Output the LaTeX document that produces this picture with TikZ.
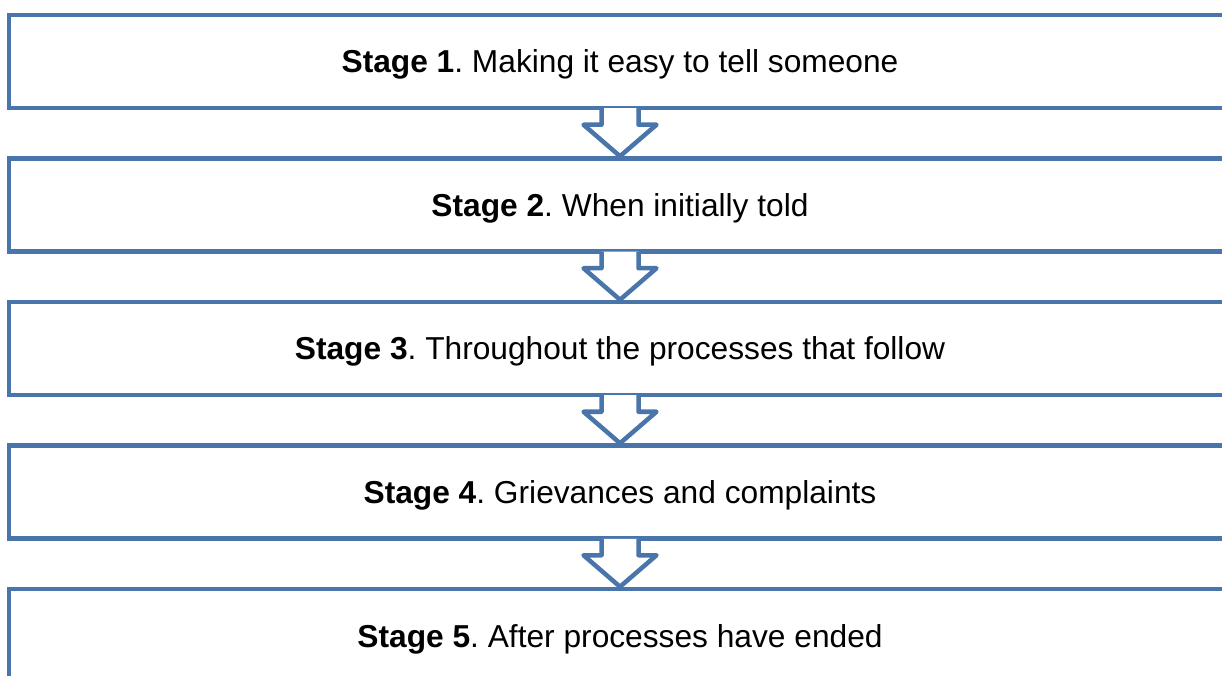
\documentclass[tikz,border=0pt]{standalone}
\usepackage{fontspec}
\setmainfont{Liberation Sans}
\usepackage{tikz}
\usetikzlibrary{calc}
\definecolor{stageblue}{RGB}{74,117,171}
\frenchspacing
\tikzset{
	stagebox/.style={draw=stageblue,line width=4.5pt,rectangle,inner sep=0pt,minimum width=1222pt,minimum height=93pt,text height=23pt,text depth=0pt,font=\fontsize{31.7}{38}\selectfont},
	downarrow/.style={draw=stageblue,fill=white,line width=4.5pt,line join=round}
}

\begin{document}
\begin{tikzpicture}[x=1pt,y=1pt]
			\useasboundingbox (0,0) rectangle (1222,675);
			\clip (0,0) rectangle (1222,675);
			%%%%%%%%%%%%%%% S T A G E S %%%%%%%%%%%%%%%%
			\node[stagebox] (stage1) at (620,613.5) {\textbf{Stage 1}. Making it easy to tell someone};
			\node[stagebox] (stage2) at (620,470) {\textbf{Stage 2}. When initially told};
			\node[stagebox] (stage3) at (620,326.5) {\textbf{Stage 3}. Throughout the processes that follow};
			\node[stagebox] (stage4) at (620,183) {\textbf{Stage 4}. Grievances and complaints};
			\node[stagebox] (stage5) at (620,39.5) {\textbf{Stage 5}. After processes have ended};
			%%%%%%%%%%%%%%% A R R O W S %%%%%%%%%%%%%%%%
			%stage 1 to 2
			\draw[downarrow] ($(stage1.south)+(-18.5,2)$) -- ++(0,-16.5) -- ++(-18,0) -- (stage2.north) -- ($(stage1.south)+(36.5,-14.5)$) -- ++(-18,0) -- ++(0,16.5);
			%stage 2 to 3
			\draw[downarrow] ($(stage2.south)+(-18.5,2)$) -- ++(0,-16.5) -- ++(-18,0) -- (stage3.north) -- ($(stage2.south)+(36.5,-14.5)$) -- ++(-18,0) -- ++(0,16.5);
			%stage 3 to 4
			\draw[downarrow] ($(stage3.south)+(-18.5,2)$) -- ++(0,-16.5) -- ++(-18,0) -- (stage4.north) -- ($(stage3.south)+(36.5,-14.5)$) -- ++(-18,0) -- ++(0,16.5);
			%stage 4 to 5
			\draw[downarrow] ($(stage4.south)+(-18.5,2)$) -- ++(0,-16.5) -- ++(-18,0) -- (stage5.north) -- ($(stage4.south)+(36.5,-14.5)$) -- ++(-18,0) -- ++(0,16.5);
		\end{tikzpicture}
\end{document}
